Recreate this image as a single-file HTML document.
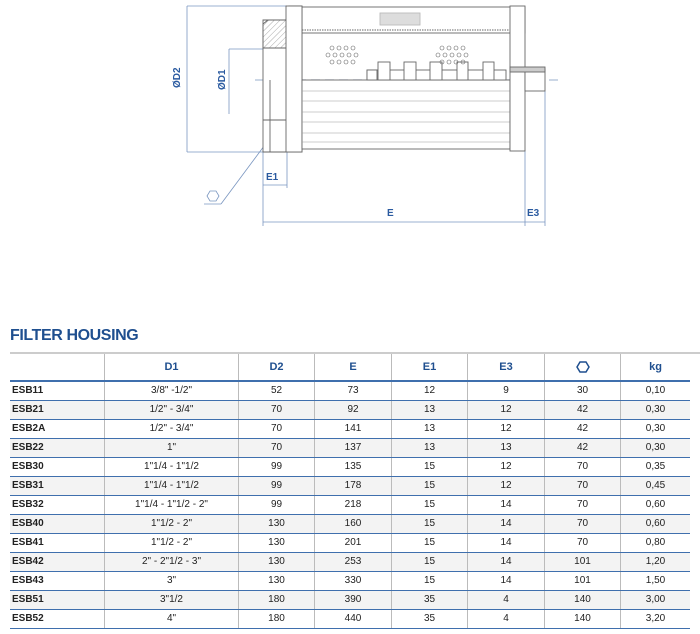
<!DOCTYPE html>
<html><head><meta charset="utf-8"><style>
body{margin:0;width:700px;height:634px;background:#fff;font-family:"Liberation Sans",sans-serif;position:relative;overflow:hidden}
svg{position:absolute;left:0;top:0}
.title{position:absolute;left:10px;top:327px;font-size:16px;font-weight:bold;color:#1f4f8f;letter-spacing:-0.4px}
table{position:absolute;left:10px;top:354px;border-collapse:collapse;width:680px;font-size:10px;color:#222}
td,th{height:18px;padding:0;text-align:center;border-left:1px solid #bbb;border-bottom:1px solid #3f6fad;vertical-align:top;line-height:17px}
th{color:#1f4f8f;font-size:11px;font-weight:bold;height:23px;line-height:26px;border-bottom:2px solid #3f6fad}
td:first-child,th:first-child{border-left:none;text-align:left;font-weight:bold;padding-left:2px}
tr.g td{background:#f3f3f3}
.top{position:absolute;left:10px;top:352px;width:690px;height:2px;background:#ccc}
</style></head><body>
<svg width="700" height="320" viewBox="0 0 700 320">
<defs><pattern id="ht" width="4" height="4" patternUnits="userSpaceOnUse" patternTransform="rotate(45)"><line x1="0" y1="0" x2="0" y2="4" stroke="#888" stroke-width="0.7"/></pattern></defs>
<g stroke="#7a96c0" stroke-width="0.8" fill="none">
<line x1="187" y1="6" x2="187" y2="152"/>
<line x1="187" y1="6" x2="287" y2="6"/>
<line x1="187" y1="152" x2="265" y2="152"/>
<line x1="229" y1="49" x2="229" y2="114"/>
<line x1="229" y1="49" x2="265" y2="49"/>
<line x1="263" y1="150" x2="263" y2="226"/>
<line x1="287" y1="150" x2="287" y2="188"/>
<line x1="263" y1="185" x2="287" y2="185"/>
<line x1="525" y1="150" x2="525" y2="226"/>
<line x1="545" y1="91" x2="545" y2="226"/>
<line x1="263" y1="222" x2="545" y2="222"/>
<line x1="270" y1="138" x2="221" y2="204"/>
<line x1="221" y1="204" x2="204" y2="204"/>
<polygon points="207,196 210,191 216,191 219,196 216,201 210,201"/>
</g>
<line x1="255" y1="80" x2="560" y2="80" stroke="#aebfd8" stroke-width="1.2" stroke-dasharray="9,5"/>
<g stroke="#666" stroke-width="0.9" fill="#fff">
<rect x="302" y="7" width="223" height="26"/>
<line x1="302" y1="30" x2="525" y2="30" stroke-dasharray="1.5,1"/>
<rect x="380" y="13" width="40" height="12" fill="#ddd" stroke="#bbb"/>
<path d="M263,152 L263,24 L268,20 L286,20 L289,6 L302,6 L302,152 Z"/>
<path d="M263,20 L289,20 L289,48 L263,48 Z" fill="url(#ht)"/>
<rect x="286" y="6" width="16" height="146"/>
<line x1="270" y1="80" x2="270" y2="152"/>
<line x1="263" y1="120" x2="286" y2="120"/>
<rect x="302" y="80" width="208" height="69" fill="#fff"/>
<g stroke="#999" stroke-width="0.6">
<line x1="302" y1="91" x2="510" y2="91"/><line x1="302" y1="101" x2="510" y2="101"/>
<line x1="302" y1="112" x2="510" y2="112"/><line x1="302" y1="122" x2="510" y2="122"/>
<line x1="302" y1="133" x2="510" y2="133"/><line x1="302" y1="142" x2="510" y2="142"/>
</g>
<rect x="367" y="70" width="139" height="10"/>
<rect x="367" y="70" width="10" height="10"/>
<rect x="378" y="62" width="12" height="18"/>
<rect x="404" y="62" width="12" height="18"/>
<rect x="430" y="62" width="12" height="18"/>
<rect x="457" y="62" width="11" height="18"/>
<rect x="483" y="62" width="11" height="18"/>
<rect x="510" y="6" width="15" height="64"/>
<rect x="510" y="71" width="15" height="80"/>
<rect x="525" y="69" width="20" height="22"/>
<rect x="510" y="67" width="35" height="5" fill="#ccc"/>
</g>
<g stroke="#666" stroke-width="0.6" fill="none">
<g id="h"><circle cx="332" cy="48" r="2"/><circle cx="339" cy="48" r="2"/><circle cx="346" cy="48" r="2"/><circle cx="353" cy="48" r="2"/>
<circle cx="328" cy="55" r="2"/><circle cx="335" cy="55" r="2"/><circle cx="342" cy="55" r="2"/><circle cx="349" cy="55" r="2"/><circle cx="356" cy="55" r="2"/>
<circle cx="332" cy="62" r="2"/><circle cx="339" cy="62" r="2"/><circle cx="346" cy="62" r="2"/><circle cx="353" cy="62" r="2"/></g>
<use href="#h" x="110"/>
</g>
<g fill="#2a5aa0" font-weight="bold" font-size="10" font-family="Liberation Sans,sans-serif">
<text x="180" y="88" transform="rotate(-90 180 88)">ØD2</text>
<text x="225" y="90" transform="rotate(-90 225 90)">ØD1</text>
<text x="266" y="180">E1</text>
<text x="387" y="216">E</text>
<text x="527" y="216">E3</text>
</g>
</svg>
<div class="title">FILTER HOUSING</div>
<div class="top"></div>
<table>
<tr><th style="width:92px"></th><th style="width:133px">D1</th><th style="width:75px">D2</th><th style="width:76px">E</th><th style="width:75px">E1</th><th style="width:76px">E3</th><th style="width:75px"><svg width="14" height="12" style="position:static;vertical-align:middle"><polygon points="1,6 4,1 10,1 13,6 10,11 4,11" fill="none" stroke="#1f4f8f" stroke-width="1.5"/></svg></th><th>kg</th></tr>
<tr><td>ESB11</td><td>3/8" -1/2"</td><td>52</td><td>73</td><td>12</td><td>9</td><td>30</td><td>0,10</td></tr>
<tr class="g"><td>ESB21</td><td>1/2" - 3/4"</td><td>70</td><td>92</td><td>13</td><td>12</td><td>42</td><td>0,30</td></tr>
<tr><td>ESB2A</td><td>1/2" - 3/4"</td><td>70</td><td>141</td><td>13</td><td>12</td><td>42</td><td>0,30</td></tr>
<tr class="g"><td>ESB22</td><td>1"</td><td>70</td><td>137</td><td>13</td><td>13</td><td>42</td><td>0,30</td></tr>
<tr><td>ESB30</td><td>1"1/4 - 1"1/2</td><td>99</td><td>135</td><td>15</td><td>12</td><td>70</td><td>0,35</td></tr>
<tr class="g"><td>ESB31</td><td>1"1/4 - 1"1/2</td><td>99</td><td>178</td><td>15</td><td>12</td><td>70</td><td>0,45</td></tr>
<tr><td>ESB32</td><td>1"1/4 - 1"1/2 - 2"</td><td>99</td><td>218</td><td>15</td><td>14</td><td>70</td><td>0,60</td></tr>
<tr class="g"><td>ESB40</td><td>1"1/2 - 2"</td><td>130</td><td>160</td><td>15</td><td>14</td><td>70</td><td>0,60</td></tr>
<tr><td>ESB41</td><td>1"1/2 - 2"</td><td>130</td><td>201</td><td>15</td><td>14</td><td>70</td><td>0,80</td></tr>
<tr class="g"><td>ESB42</td><td>2" - 2"1/2 - 3"</td><td>130</td><td>253</td><td>15</td><td>14</td><td>101</td><td>1,20</td></tr>
<tr><td>ESB43</td><td>3"</td><td>130</td><td>330</td><td>15</td><td>14</td><td>101</td><td>1,50</td></tr>
<tr class="g"><td>ESB51</td><td>3"1/2</td><td>180</td><td>390</td><td>35</td><td>4</td><td>140</td><td>3,00</td></tr>
<tr><td>ESB52</td><td>4"</td><td>180</td><td>440</td><td>35</td><td>4</td><td>140</td><td>3,20</td></tr>
</table>
</body></html>
